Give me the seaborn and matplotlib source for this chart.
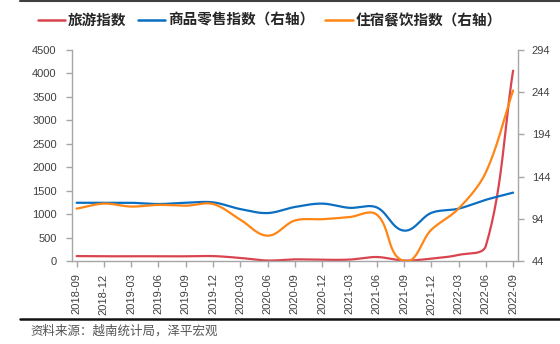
import numpy as np
import pandas as pd
import matplotlib
matplotlib.use("Agg")
import matplotlib.pyplot as plt
from matplotlib.lines import Line2D
import seaborn as sns

# Quarterly Vietnam indices
quarters = ['2018-09', '2018-12', '2019-03', '2019-06', '2019-09', '2019-12',
            '2020-03', '2020-06', '2020-09', '2020-12', '2021-03', '2021-06',
            '2021-09', '2021-12', '2022-03', '2022-06', '2022-09']
tourism = [105, 100, 102, 100, 100, 105, 65, 10, 35, 25, 30, 85,
           10, 50, 130, 320, 4060]
retail = [113, 113, 113, 111.5, 113, 113.5, 105.5, 100.8, 108, 112, 107, 107.5,
          80, 101, 106, 116.5, 125]
lodging = [106, 112, 108.5, 110.5, 109.5, 111.5, 93, 74, 92, 93.5, 96, 99,
           44, 81, 106, 149, 246]

left_ticks = list(range(0, 4501, 500))
right_ticks = [44, 94, 144, 194, 244, 294]

RED = '#D9444F'
BLUE = '#0A6FC2'
ORANGE = '#FF8514'
TICK_COLOR = '#404040'
SPINE_COLOR = '#a6a6a6'

sns.set_theme(style="white")
plt.rcParams['font.family'] = ['Liberation Sans', 'DejaVu Sans']
CJK = ['Noto Sans CJK SC', 'DejaVu Sans']


def smooth(values, sx, sy, k=1 / 3, n=30):
    """Bezier smoothing in screen-like space (tangent follows neighbours)."""
    xs = np.arange(len(values), dtype=float)
    P = np.column_stack([xs * sx, np.asarray(values, float) * sy])
    D = np.zeros_like(P)
    D[1:-1] = P[2:] - P[:-2]
    D[0] = P[1] - P[0]
    D[-1] = P[-1] - P[-2]
    U = D / np.linalg.norm(D, axis=1, keepdims=True)
    pts = []
    for i in range(len(P) - 1):
        L = np.linalg.norm(P[i + 1] - P[i])
        c1 = P[i] + U[i] * L * k
        c2 = P[i + 1] - U[i + 1] * L * k
        t = np.linspace(0, 1, n, endpoint=(i == len(P) - 2))[:, None]
        B = ((1 - t) ** 3) * P[i] + 3 * ((1 - t) ** 2) * t * c1 \
            + 3 * (1 - t) * t ** 2 * c2 + t ** 3 * P[i + 1]
        pts.append(B)
    pts = np.vstack(pts)
    return pts[:, 0] / sx, pts[:, 1] / sy


W, H = 560, 344
fig = plt.figure(figsize=(W / 100, H / 100), dpi=100)
x0, x1, y0, y1 = 72, 518, 50, 261
ax = fig.add_axes([x0 / W, 1 - y1 / H, (x1 - x0) / W, (y1 - y0) / H])
ax2 = ax.twinx()

n = len(quarters)
step_px = 27.3
sy_left = (y1 - y0) / 4500
sy_right = (y1 - y0) / 250

tx, ty = smooth(tourism, step_px, sy_left)
rx, ry = smooth(retail, step_px, sy_right)
lx, ly = smooth(lodging, step_px, sy_right)

sns.lineplot(x=tx, y=ty, ax=ax, color=RED, linewidth=1.6, sort=False,
             estimator=None, label='旅游指数', legend=False)
sns.lineplot(x=rx, y=ry, ax=ax2, color=BLUE, linewidth=1.6, sort=False,
             estimator=None, label='商品零售指数（右轴）', legend=False)
sns.lineplot(x=lx, y=ly, ax=ax2, color=ORANGE, linewidth=1.6, sort=False,
             estimator=None, label='住宿餐饮指数（右轴）', legend=False)

ax.set_xlim(-0.17, n - 1 + 0.18)
ax.set_ylim(0, 4500)
ax2.set_ylim(44, 294)
ax.set_yticks(left_ticks)
ax2.set_yticks(right_ticks)
ax.set_xticks(range(n))
ax.set_xticklabels(quarters, rotation=90)

for a in (ax, ax2):
    a.set_xlabel('')
    a.set_ylabel('')
    a.grid(False)
    a.spines['top'].set_visible(False)
    for s in ('left', 'right', 'bottom'):
        a.spines[s].set_color(SPINE_COLOR)
        a.spines[s].set_linewidth(1.0)
ax.spines['right'].set_visible(False)
ax2.spines['left'].set_visible(False)
ax2.spines['bottom'].set_visible(False)

ax.tick_params(axis='y', left=True, direction='out', length=4, width=1,
               color=SPINE_COLOR, labelsize=8, labelcolor=TICK_COLOR, pad=7)
ax.tick_params(axis='x', bottom=True, direction='out', length=4, width=1,
               color=SPINE_COLOR, labelsize=8, labelcolor=TICK_COLOR, pad=5)
ax2.tick_params(axis='y', right=True, direction='out', length=4, width=1,
                color=SPINE_COLOR, labelsize=8, labelcolor=TICK_COLOR, pad=6)

handles = [Line2D([], [], color=RED, lw=1.8),
           Line2D([], [], color=BLUE, lw=1.8),
           Line2D([], [], color=ORANGE, lw=1.8)]
labels = ['旅游指数', '商品零售指数（右轴）', '住宿餐饮指数（右轴）']
fig.legend(handles, labels, loc='center', bbox_to_anchor=(0.482, 1 - 20 / H),
           ncol=3, frameon=False, handlelength=1.9, handletextpad=0.2,
           columnspacing=0.75, borderpad=0.2,
           prop={'family': CJK, 'size': 10.5, 'weight': 'bold'})

# frame rules above and below the chart
fig.add_artist(Line2D([20 / W, 1], [1 - 1 / H, 1 - 1 / H],
                      transform=fig.transFigure, color='#404040', lw=1.5))
fig.add_artist(Line2D([20 / W, 1], [1 - 319 / H, 1 - 319 / H],
                      transform=fig.transFigure, color='#111111', lw=1.8))

fig.text(30 / W, 1 - 331 / H, '资料来源：越南统计局，泽平宏观', family=CJK,
         fontsize=9, color='#555555', va='center', ha='left', style='italic')

fig.savefig('out.png', dpi=100)
